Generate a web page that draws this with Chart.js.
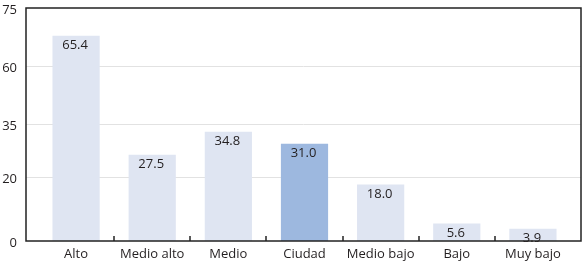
<!DOCTYPE html>
<html>
<head>
<meta charset="utf-8">
<script src="https://cdn.jsdelivr.net/npm/chart.js@4.4.0/dist/chart.umd.min.js"></script>
<style>
  html, body { margin: 0; padding: 0; background: #fff; }
  #wrap { width: 583px; height: 265px; }
</style>
</head>
<body>
<div id="wrap"><canvas id="chart"></canvas></div>
<script>
const categories = ['Alto', 'Medio alto', 'Medio', 'Ciudad', 'Medio bajo', 'Bajo', 'Muy bajo']
const values = [65.4, 27.5, 34.8, 31.0, 18.0, 5.6, 3.9]
const highlight = 'Ciudad'
// the source axis is not evenly labelled: gridline positions and their printed labels
const tickValues = [0, 20.3, 37.3, 55.7, 74.2]
const tickLabels = ['0', '20', '35', '60', '75']

const FONT = "'Open Sans', sans-serif"
const INK = '#231f20'

// frame, gridlines and inner tick marks, drawn a bit wider than the bar area
const framePlugin = {
  id: 'frame',
  beforeDatasetsDraw(chart) {
    const { ctx, chartArea: a, scales: { y } } = chart
    const left = a.left - 12, right = a.right + 10
    ctx.save()
    ctx.strokeStyle = '#e2e2e2'
    ctx.lineWidth = 1
    tickValues.slice(1, -1).forEach(v => {
      const py = Math.round(y.getPixelForValue(v)) + 0.5
      ctx.beginPath()
      ctx.moveTo(left, py)
      ctx.lineTo(right, py)
      ctx.stroke()
    })
    ctx.restore()
  },
  afterDatasetsDraw(chart) {
    const { ctx, chartArea: a, scales: { x, y } } = chart
    const left = a.left - 12, right = a.right + 10
    const top = y.getPixelForValue(y.max), bottom = y.getPixelForValue(0)
    ctx.save()
    ctx.strokeStyle = '#222'
    ctx.lineWidth = 1.5
    ctx.strokeRect(left, top, right - left, bottom - top)
    for (let i = 1; i < categories.length; i++) {
      const px = Math.round((x.getPixelForValue(i - 1) + x.getPixelForValue(i)) / 2)
      ctx.beginPath()
      ctx.moveTo(px, bottom)
      ctx.lineTo(px, bottom - 5)
      ctx.stroke()
    }
    // value labels just inside the top of each bar
    ctx.fillStyle = INK
    ctx.font = '13px ' + FONT
    ctx.textAlign = 'center'
    ctx.textBaseline = 'middle'
    chart.getDatasetMeta(0).data.forEach((bar, i) => {
      ctx.fillText(values[i].toFixed(1), bar.x - 1, bar.y + 10)
    })
    ctx.restore()
  }
}

new Chart(document.getElementById('chart'), {
  type: 'bar',
  data: {
    labels: categories,
    datasets: [{
      data: values,
      backgroundColor: categories.map(c => c === highlight ? '#9db8df' : '#dfe5f2'),
      borderWidth: 0,
      categoryPercentage: 1,
      barPercentage: 0.62
    }]
  },
  options: {
    responsive: true,
    maintainAspectRatio: false,
    animation: false,
    layout: { padding: { top: 8, right: 12, left: 0, bottom: 0 } },
    plugins: { legend: { display: false }, tooltip: { enabled: false } },
    scales: {
      x: {
        grid: { display: false, drawTicks: false },
        border: { display: false },
        ticks: { color: INK, font: { family: FONT, size: 13 }, padding: 5, maxRotation: 0, autoSkip: false },
        afterFit: s => { s.height = 24 }
      },
      y: {
        min: 0,
        max: tickValues[tickValues.length - 1],
        grid: { display: false, drawTicks: true, tickLength: 21 },
        border: { display: false },
        afterBuildTicks: s => { s.ticks = tickValues.map(v => ({ value: v })) },
        ticks: {
          color: INK,
          font: { family: FONT, size: 13 },
          padding: 0,
          labelOffset: 2,
          callback: (v, i) => tickLabels[i]
        },
        afterFit: s => { s.width = 38 }
      }
    }
  },
  plugins: [framePlugin]
})
</script>
</body>
</html>
